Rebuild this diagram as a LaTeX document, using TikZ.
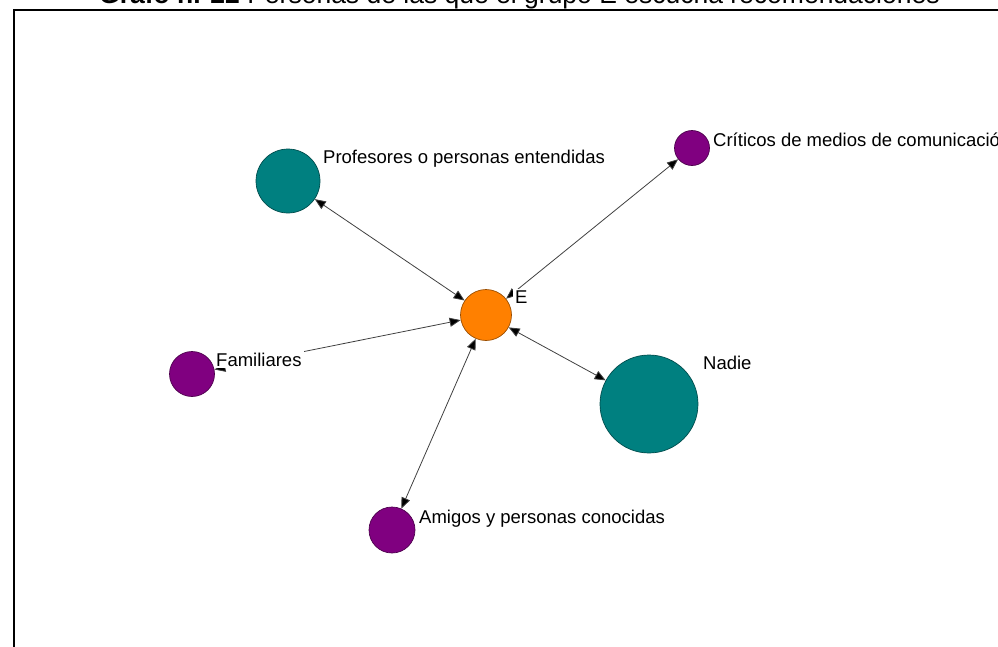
\documentclass[tikz,border=0pt]{standalone}
\usepackage{fontspec}
\setmainfont{Liberation Sans}
\usetikzlibrary{arrows.meta}

\definecolor{tealnode}{HTML}{008080}
\definecolor{purplenode}{HTML}{800080}
\definecolor{orangenode}{HTML}{FF8000}

\tikzset{
  vertex/.style={circle, inner sep=0pt, draw=#1!60!black, line width=0.7pt, fill=#1},
  edge/.style={draw=black!75, line width=0.8pt,
    {Triangle[length=11pt,width=9pt,fill=black]}-{Triangle[length=11pt,width=9pt,fill=black]}},
  tag/.style={anchor=base west, fill=white, inner xsep=2pt, inner ysep=1.5pt,
    font=\fontsize{18.5}{20}\selectfont},
  frame/.style={line width=2pt, black}
}

\begin{document}
\begin{tikzpicture}[x=1pt, y=-1pt]
  \useasboundingbox (0,0) rectangle (998,646);

  % heading above the frame
  \node[anchor=base west, inner sep=0pt, font=\fontsize{26.5}{28}\selectfont] (title) at (99,3.5)
    {\textbf{Grafo n.º22} Personas de las que el grupo E escucha recomendaciones};

  % frame
  \coordinate (fbl) at (14,650);
  \coordinate (ftl) at (14,10);
  \coordinate (ftr) at (1002,10);
  \draw[frame] (fbl) -- (ftl) -- (ftr);

  % actors
  \node[vertex=orangenode, minimum size=51pt] (E) at (486,315) {};
  \node[vertex=tealnode,   minimum size=64pt] (P) at (288,181) {};
  \node[vertex=purplenode, minimum size=35pt] (C) at (692,148) {};
  \node[vertex=purplenode, minimum size=45pt] (F) at (192,374) {};
  \node[vertex=tealnode,   minimum size=98pt] (N) at (649,404) {};
  \node[vertex=purplenode, minimum size=46pt] (A) at (392,530) {};

  % ties
  \draw[edge] (E) -- (P);
  \draw[edge] (E) -- (C);
  \draw[edge] (E) -- (F);
  \draw[edge] (E) -- (N);
  \draw[edge] (E) -- (A);

  % names
  \node[tag] (tP) at (321,163) {Profesores o personas entendidas};
  \node[tag] (tC) at (711,146) {Críticos de medios de comunicación};
  \node[tag] (tE) at (513,303) {E};
  \node[tag] (tF) at (214,366) {Familiares};
  \node[tag] (tN) at (701,369) {Nadie};
  \node[tag] (tA) at (417,523) {Amigos y personas conocidas};
\end{tikzpicture}
\end{document}
